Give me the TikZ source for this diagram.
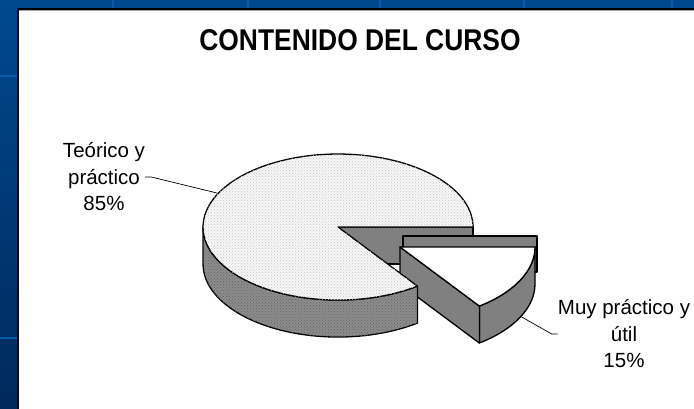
\documentclass[tikz,border=0pt]{standalone}
\usepackage{fontspec}
\setmainfont{Liberation Sans}
\usetikzlibrary{patterns}
\definecolor{bgtop}{HTML}{00498F}
\definecolor{bgbot}{HTML}{00295C}
\definecolor{gridblue}{HTML}{0B5BAA}
\definecolor{wallgray}{HTML}{808080}
\begin{document}
\begin{tikzpicture}[x=1pt, y=-1pt,
    outline/.style={draw=black, line width=1.3pt, line join=round},
    wall/.style={outline, fill=wallgray},
    dotwall/.style={outline, fill=gray!90, postaction={pattern=crosshatch dots, pattern color=black!60}},
    dottop/.style={outline, fill=gray!6, postaction={pattern=crosshatch dots, pattern color=gray!45}},
    lbl/.style={align=center, font=\fontsize{20.5}{26.5}\selectfont, inner sep=0pt},
    leader/.style={draw=black, line width=0.7pt}]
\useasboundingbox (0,0) rectangle (694,409);
% background
\shade[top color=bgtop, bottom color=bgbot] (0,0) rectangle (694,409);
\foreach \x in {113,248,380,524,672}
    \draw[gridblue, line width=2pt] (\x,0) -- (\x,409);
\foreach \y in {76,338}
    \draw[gridblue, line width=2pt] (0,\y) -- (694,\y);
\fill[white] (18,9) rectangle (694,409);
\draw[gray!70, line width=1pt] (19,10.5) -- (694,10.5);
\draw[black, line width=1.5pt] (18,409) -- (18,9) -- (694,9);

\node[font=\fontsize{30}{34}\selectfont\bfseries, anchor=base] (title) at (360,51)
    {\scalebox{0.88}[1]{CONTENIDO DEL CURSO}};

% cut face of the big piece
\path[wall] (338,227) -- (473,227) -- (473,264) -- (338,264) -- cycle;
% exploded slice
\path[wall] (403,236) rectangle (537,272);
\path[wall] (535,247) arc[start angle=0, end angle=54, x radius=135, y radius=73]
    -- ++(0,37) arc[start angle=54, end angle=0, x radius=135, y radius=73] -- cycle;
\path[wall] (400,247) -- (479.4,306.1) -- (479.4,343.1) -- (400,284) -- cycle;
\path[outline, fill=white] (400,247) -- (535,247)
    arc[start angle=0, end angle=54, x radius=135, y radius=73] -- cycle;
% big piece
\path[dotwall] (417.4,286.1) arc[start angle=54, end angle=180, x radius=135, y radius=73]
    -- ++(0,37) arc[start angle=180, end angle=54, x radius=135, y radius=73] -- cycle;
\path[dottop] (338,227) -- (417.4,286.1)
    arc[start angle=54, end angle=360, x radius=135, y radius=73] -- cycle;

% labels
\node[lbl] (teo) at (104,177) {Teórico y\\práctico\\85\%};
\node[lbl] (muy) at (624,334) {Muy práctico y\\útil\\15\%};
\coordinate (teoEnd) at (217,193);
\coordinate (muyEnd) at (520,316);
\draw[leader] (teo.east) -- ++(6,0) -- (teoEnd);
\draw[leader] (muy.west) -- ++(-6,0) -- (muyEnd);
\end{tikzpicture}
\end{document}
